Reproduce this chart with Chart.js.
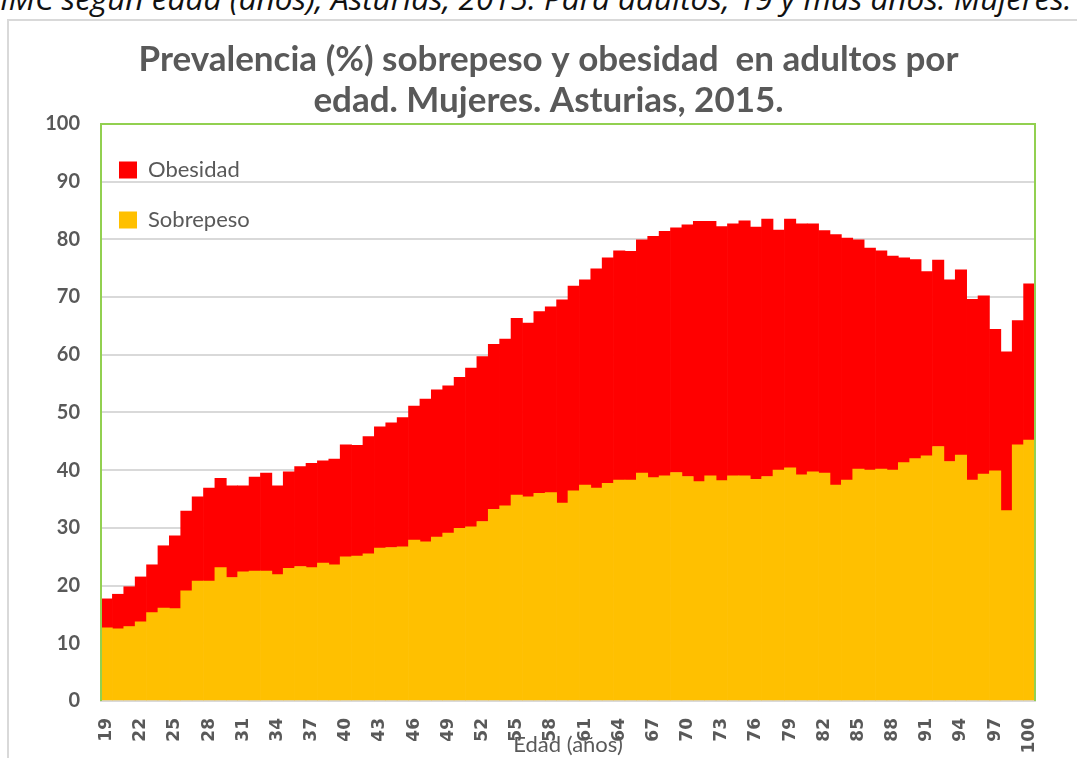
<!DOCTYPE html>
<html>
<head>
<meta charset="utf-8">
<script src="https://cdn.jsdelivr.net/npm/chart.js@4.4.1/dist/chart.umd.min.js"></script>
<style>
  html, body { margin: 0; padding: 0; overflow: hidden; background: #fff; }
  #doc-line {
    position: absolute; left: 0px; top: -24px; white-space: nowrap;
    font-family: "Open Sans", sans-serif; font-style: italic; font-size: 31.5px; color: #111;
  }
  #frame {
    position: absolute; left: 7px; top: 19px; width: 1200px; height: 900px;
    border: 2px solid #d9d9d9; pointer-events: none;
  }
  #box { position: absolute; left: 0; top: 0; width: 1098px; height: 758px; }
</style>
</head>
<body>
<div id="doc-line">IMC según edad (años), Asturias, 2015. Para adultos, 19 y más años. Mujeres.</div>
<div id="frame"></div>
<div id="box"><canvas id="chart"></canvas></div>
<script>
// edades 19..100
const edades = [19,20,21,22,23,24,25,26,27,28,29,30,31,32,33,34,35,36,37,38,39,40,
  41,42,43,44,45,46,47,48,49,50,51,52,53,54,55,56,57,58,59,60,61,62,63,64,65,66,67,68,69,70,
  71,72,73,74,75,76,77,78,79,80,81,82,83,84,85,86,87,88,89,90,91,92,93,94,95,96,97,98,99,100];

const sobrepeso = [12.7,12.5,12.9,13.7,15.3,16.1,16.0,19.1,20.8,20.8,23.1,21.4,22.4,22.5,22.5,21.9,23.0,23.3,23.1,23.9,23.6,25.0,
  25.1,25.5,26.5,26.6,26.7,27.9,27.6,28.4,29.1,29.9,30.2,31.1,33.2,33.8,35.7,35.4,36.0,36.1,34.3,36.4,37.4,36.9,37.7,38.3,38.3,39.5,38.7,39.0,39.6,38.9,
  38.0,39.0,38.2,39.0,39.0,38.4,38.9,40.0,40.4,39.2,39.7,39.5,37.4,38.3,40.2,40.0,40.2,40.0,41.3,42.0,42.5,44.1,41.5,42.6,38.3,39.3,39.9,33.0,44.4,45.2];

const obesidad = [5.0,6.0,6.9,7.8,8.3,10.8,12.6,13.8,14.6,16.1,15.5,15.9,14.9,16.3,17.0,15.4,16.7,17.3,18.1,17.7,18.3,19.4,
  19.2,20.3,21.0,21.6,22.4,23.2,24.7,25.5,25.5,26.2,27.5,28.6,28.6,28.9,30.6,30.1,31.5,32.2,35.2,35.5,35.6,38.0,39.1,39.7,39.6,40.4,41.8,42.4,42.4,43.6,
  45.1,44.1,44.0,43.7,44.2,43.7,44.6,41.6,43.1,43.5,43.0,42.0,43.4,41.9,39.7,38.5,37.8,37.1,35.5,34.5,31.9,32.3,31.5,32.1,31.3,30.9,24.5,27.5,21.5,27.1];

const yTicks = [0,10,20,30,40,50,60,70,80,90,100];

const gris = '#595959';

// marco verde del área de trazado (izq, arriba, dcha)
const plotFrame = {
  id: 'plotFrame',
  afterDatasetsDraw(chart) {
    const {ctx, chartArea: a} = chart;
    ctx.save();
    ctx.strokeStyle = '#92D050';
    ctx.lineWidth = 2;
    ctx.beginPath();
    ctx.moveTo(a.left, a.bottom);
    ctx.lineTo(a.left, a.top);
    ctx.lineTo(a.right, a.top);
    ctx.lineTo(a.right, a.bottom);
    ctx.stroke();
    ctx.restore();
  }
};

// leyenda dentro del área (arriba izq.) y título algo desplazado a la dcha.
const boxShift = {
  id: 'boxShift',
  afterLayout(chart) {
    const lg = chart.legend, a = chart.chartArea;
    const h = lg.height;
    lg.left = a.left - 10;
    lg.top = a.top + 7;
    lg.bottom = lg.top + h;
    lg.right = lg.left + lg.width;
    const t = chart.titleBlock;
    t.left += 31;
    t.right += 31;
  }
};

new Chart(document.getElementById('chart'), {
  type: 'bar',
  data: {
    labels: edades,
    datasets: [
      { label: 'Sobrepeso', data: sobrepeso, backgroundColor: '#FFC000',
        barPercentage: 1, categoryPercentage: 1, borderWidth: 0 },
      { label: 'Obesidad', data: obesidad, backgroundColor: '#FF0000',
        barPercentage: 1, categoryPercentage: 1, borderWidth: 0 }
    ]
  },
  options: {
    responsive: true,
    maintainAspectRatio: false,
    animation: false,
    layout: { padding: { left: 0, right: 63, top: 0, bottom: 0 } },
    plugins: {
      title: {
        display: true,
        text: ['Prevalencia (%) sobrepeso y obesidad  en adultos por', 'edad. Mujeres. Asturias, 2015.'],
        color: gris,
        font: { family: 'Lato', size: 35, weight: 'bold', lineHeight: 1.17 },
        padding: { top: 39, bottom: 3 }
      },
      legend: {
        position: 'chartArea',
        align: 'start',
        reverse: true,
        labels: {
          boxWidth: 18,
          boxHeight: 17,
          padding: 28,
          color: gris,
          font: { family: 'Lato', size: 22 }
        }
      },
      tooltip: { enabled: false }
    },
    scales: {
      x: {
        stacked: true,
        grid: { display: false, drawTicks: false },
        border: { display: true, color: '#D9D9D9', width: 2 },
        ticks: {
          autoSkip: false,
          minRotation: 90,
          maxRotation: 90,
          padding: 17,
          color: gris,
          font: { family: 'DejaVu Sans', size: 17, weight: 'bold' },
          callback: function (v, i) { return i % 3 === 0 ? edades[i] : ''; }
        },
        title: {
          display: true,
          text: 'Edad (años)',
          color: gris,
          font: { family: 'Lato', size: 22 },
          padding: { top: 0, bottom: 0 }
        },
        afterFit(scale) { scale.height = 57; }
      },
      y: {
        stacked: true,
        min: 0,
        max: 100,
        afterBuildTicks(scale) { scale.ticks = yTicks.map(v => ({ value: v })); },
        grid: { color: '#D9D9D9', lineWidth: 2, drawTicks: false },
        border: { display: false },
        ticks: {
          padding: 21,
          color: gris,
          font: { family: 'Lato', size: 20, weight: 'bold' }
        },
        afterFit(scale) { scale.width = 101; }
      }
    }
  },
  plugins: [plotFrame, boxShift]
});
</script>
</body>
</html>
